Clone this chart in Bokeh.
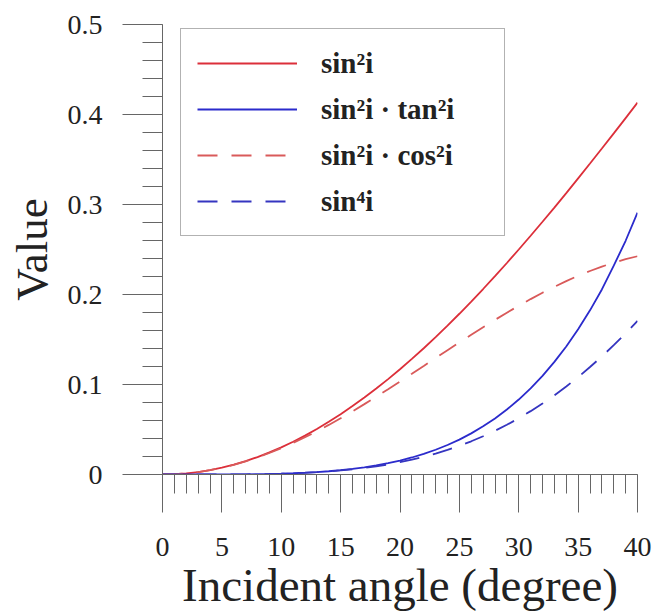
from bokeh.plotting import figure
from bokeh.models import (ColumnDataSource, Legend, LegendItem, Range1d,
                          CustomJSTickFormatter, FixedTicker)
from bokeh.embed import file_html
from bokeh.resources import INLINE

# Incident angle (degree)
angle = list(range(0, 41))

sin2 = [0.0, 0.0003, 0.0012, 0.0027, 0.0049, 0.0076, 0.0109, 0.0149, 0.0194, 0.0245,
        0.0302, 0.0364, 0.0432, 0.0506, 0.0585, 0.0670, 0.0760, 0.0855, 0.0955, 0.1060,
        0.1170, 0.1284, 0.1403, 0.1527, 0.1654, 0.1786, 0.1922, 0.2061, 0.2204, 0.2350,
        0.2500, 0.2653, 0.2808, 0.2966, 0.3127, 0.3290, 0.3455, 0.3622, 0.3790, 0.3960, 0.4132]
sin2_tan2 = [0.0, 0.0000, 0.0000, 0.0000, 0.0000, 0.0001, 0.0001, 0.0002, 0.0004, 0.0006,
             0.0009, 0.0014, 0.0020, 0.0027, 0.0036, 0.0048, 0.0062, 0.0080, 0.0101, 0.0126,
             0.0155, 0.0189, 0.0229, 0.0275, 0.0328, 0.0388, 0.0457, 0.0535, 0.0623, 0.0722,
             0.0833, 0.0958, 0.1096, 0.1251, 0.1422, 0.1613, 0.1824, 0.2056, 0.2320, 0.2597, 0.2909]
sin2_cos2 = [0.0, 0.0003, 0.0012, 0.0027, 0.0048, 0.0075, 0.0108, 0.0146, 0.0190, 0.0239,
             0.0292, 0.0351, 0.0414, 0.0480, 0.0551, 0.0625, 0.0702, 0.0782, 0.0864, 0.0948,
             0.1033, 0.1119, 0.1206, 0.1294, 0.1381, 0.1467, 0.1552, 0.1636, 0.1718, 0.1798,
             0.1875, 0.1949, 0.2020, 0.2086, 0.2149, 0.2208, 0.2261, 0.2310, 0.2354, 0.2392, 0.2425]
sin4 = [0.0, 0.0000, 0.0000, 0.0000, 0.0000, 0.0001, 0.0001, 0.0002, 0.0004, 0.0006,
        0.0009, 0.0013, 0.0019, 0.0026, 0.0034, 0.0045, 0.0058, 0.0073, 0.0091, 0.0112,
        0.0137, 0.0165, 0.0197, 0.0233, 0.0274, 0.0319, 0.0369, 0.0425, 0.0486, 0.0552,
        0.0625, 0.0704, 0.0789, 0.0880, 0.0978, 0.1082, 0.1194, 0.1312, 0.1437, 0.1569, 0.1707]

labels = ["sin²i", "sin²i · tan²i", "sin²i · cos²i", "sin⁴i"]
x_ticks = [0, 5, 10, 15, 20, 25, 30, 35, 40]
y_ticks = [0, 0.1, 0.2, 0.3, 0.4, 0.5]

src = ColumnDataSource(dict(x=angle, a=sin2, b=sin2_tan2, c=sin2_cos2, d=sin4))

p = figure(width=655, height=613, output_backend="svg", toolbar_location=None,
           x_range=Range1d(0, 40), y_range=Range1d(0, 0.5),
           min_border_left=162, min_border_right=18, min_border_top=24, min_border_bottom=139)
p.outline_line_color = None
p.xgrid.grid_line_color = None
p.ygrid.grid_line_color = None
p.background_fill_color = "white"
p.border_fill_color = "white"

red = "#dc2f3a"
blue = "#2b2bcc"
red_d = "#d95a5a"
blue_d = "#3535c0"

r1 = p.line("x", "a", source=src, line_color=red, line_width=1.8)
r2 = p.line("x", "b", source=src, line_color=blue, line_width=1.8)
r3 = p.line("x", "c", source=src, line_color=red_d, line_width=1.8, line_dash="20 14")
r4 = p.line("x", "d", source=src, line_color=blue_d, line_width=1.8, line_dash="20 14")

axis_col = "#666666"
font = "'Liberation Serif', 'Times New Roman', serif"

xa = p.xaxis[0]
xa.ticker = FixedTicker(ticks=x_ticks, minor_ticks=list(range(0, 41)))
xa.axis_line_color = axis_col
xa.major_tick_line_color = axis_col
xa.minor_tick_line_color = axis_col
xa.major_tick_in = 0
xa.major_tick_out = 38
xa.minor_tick_in = 0
xa.minor_tick_out = 19
xa.major_label_text_font = font
xa.major_label_text_font_size = "28px"
xa.major_label_text_color = "#222222"
xa.major_label_standoff = 25
xa.axis_label = "Incident angle (degree)"
xa.axis_label_text_font = font
xa.axis_label_text_font_size = "47px"
xa.axis_label_text_font_style = "normal"
xa.axis_label_text_color = "#222222"
xa.axis_label_standoff = 0

ya = p.yaxis[0]
ya.ticker = FixedTicker(ticks=y_ticks, minor_ticks=[i / 50 for i in range(0, 26)])
ya.formatter = CustomJSTickFormatter(code="return tick == 0 ? '0' : tick.toFixed(1);")
ya.axis_line_color = axis_col
ya.major_tick_line_color = axis_col
ya.minor_tick_line_color = axis_col
ya.major_tick_in = 0
ya.major_tick_out = 40
ya.minor_tick_in = 0
ya.minor_tick_out = 20
ya.major_label_text_font = font
ya.major_label_text_font_size = "28px"
ya.major_label_text_color = "#222222"
ya.major_label_standoff = 20
ya.axis_label = "Value"
ya.axis_label_text_font = font
ya.axis_label_text_font_size = "45px"
ya.axis_label_text_font_style = "normal"
ya.axis_label_text_color = "#222222"
ya.axis_label_standoff = 8

legend = Legend(items=[LegendItem(label=labels[0], renderers=[r1]),
                       LegendItem(label=labels[1], renderers=[r2]),
                       LegendItem(label=labels[2], renderers=[r3]),
                       LegendItem(label=labels[3], renderers=[r4])],
                location=(18, 238))
legend.glyph_width = 100
legend.glyph_height = 36
legend.label_height = 36
legend.label_width = 167
legend.spacing = 10
legend.padding = 16
legend.margin = 0
legend.label_standoff = 24
legend.label_text_font = font
legend.label_text_font_size = "29px"
legend.label_text_font_style = "bold"
legend.label_text_color = "#222222"
legend.border_line_color = "#666666"
legend.border_line_width = 1.5
legend.background_fill_alpha = 1
p.add_layout(legend, "center")

open("out.html", "w").write(file_html(p, INLINE))
